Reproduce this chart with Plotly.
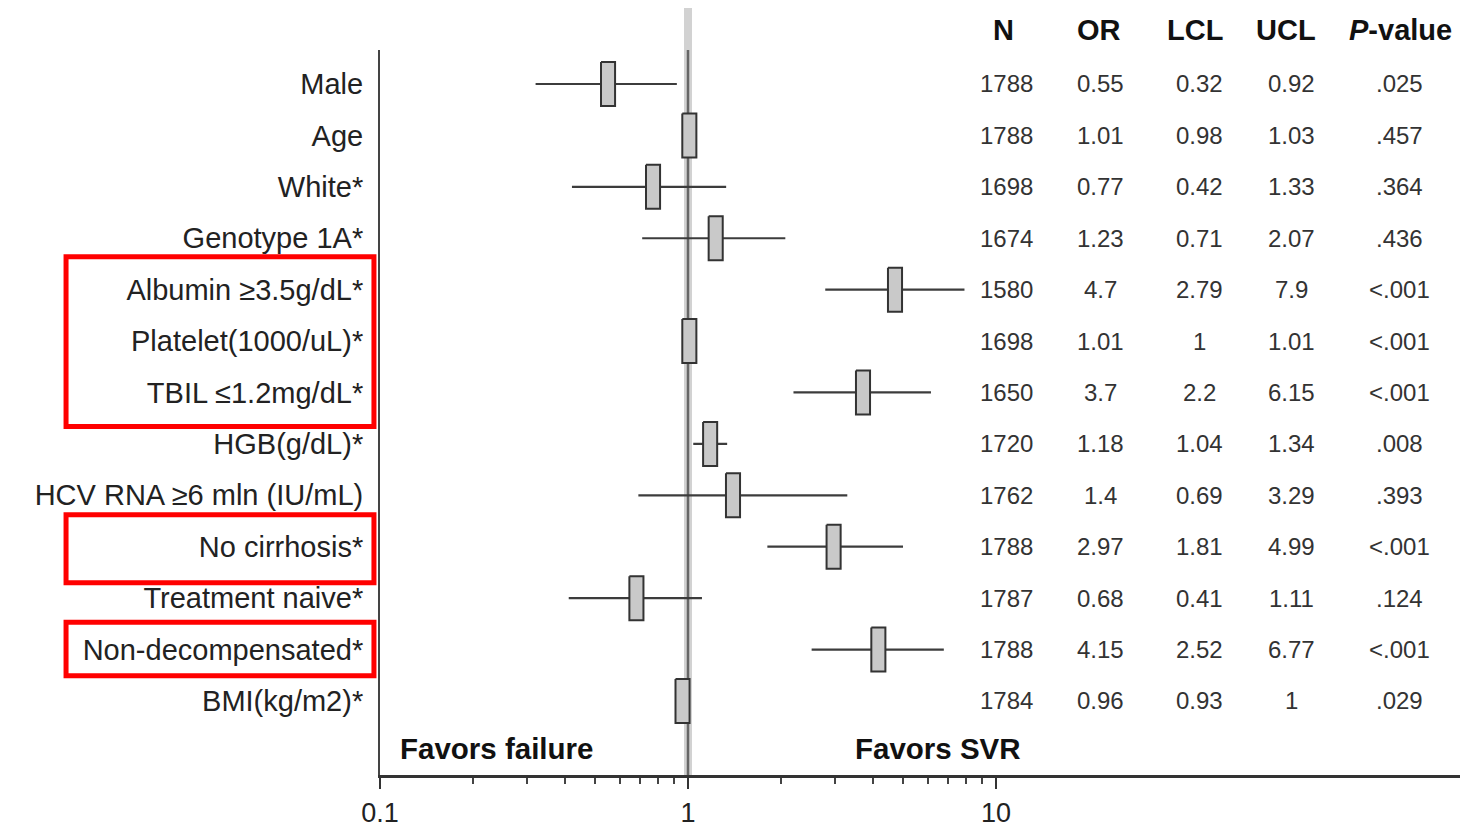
import plotly.graph_objects as go

# ---- data ----
labels = ["Male", "Age", "White*", "Genotype 1A*", "Albumin ≥3.5g/dL*",
          "Platelet(1000/uL)*", "TBIL ≤1.2mg/dL*", "HGB(g/dL)*",
          "HCV RNA ≥6 mln (IU/mL)", "No cirrhosis*", "Treatment naive*",
          "Non-decompensated*", "BMI(kg/m2)*"]
n_vals = [1788, 1788, 1698, 1674, 1580, 1698, 1650, 1720, 1762, 1788, 1787, 1788, 1784]
or_vals = [0.55, 1.01, 0.77, 1.23, 4.7, 1.01, 3.7, 1.18, 1.4, 2.97, 0.68, 4.15, 0.96]
lcl_vals = [0.32, 0.98, 0.42, 0.71, 2.79, 1, 2.2, 1.04, 0.69, 1.81, 0.41, 2.52, 0.93]
ucl_vals = [0.92, 1.03, 1.33, 2.07, 7.9, 1.01, 6.15, 1.34, 3.29, 4.99, 1.11, 6.77, 1]
or_text = ["0.55", "1.01", "0.77", "1.23", "4.7", "1.01", "3.7", "1.18", "1.4", "2.97", "0.68", "4.15", "0.96"]
lcl_text = ["0.32", "0.98", "0.42", "0.71", "2.79", "1", "2.2", "1.04", "0.69", "1.81", "0.41", "2.52", "0.93"]
ucl_text = ["0.92", "1.03", "1.33", "2.07", "7.9", "1.01", "6.15", "1.34", "3.29", "4.99", "1.11", "6.77", "1"]
p_text = [".025", ".457", ".364", ".436", "<.001", "<.001", "<.001", ".008", ".393",
          "<.001", ".124", "<.001", ".029"]
headers = ["<b>N</b>", "<b>OR</b>", "<b>LCL</b>", "<b>UCL</b>", "<b><i>P</i>-value</b>"]
tick_vals = [0.1, 1, 10]
tick_text = ["0.1", "1", "10"]
minor_vals = [0.2, 0.3, 0.4, 0.5, 0.6, 0.7, 0.8, 0.9, 2, 3, 4, 5, 6, 7, 8, 9]
highlight_groups = [(4, 6, 0.64, 0.66), (9, 9, 0.62, 0.70), (11, 11, 0.53, 0.51)]

FONT = "Liberation Sans, Arial, Helvetica, sans-serif"
rows = list(range(len(labels)))

# ---- CI lines ----
ci_x, ci_y = [], []
for i in rows:
    ci_x += [lcl_vals[i], ucl_vals[i], None]
    ci_y += [i, i, None]

# ---- OR boxes ----
f = 1.054   # half box width factor on log scale
h = 0.428   # half box height in rows
bx, by = [], []
for i in rows:
    o = or_vals[i]
    bx += [o / f, o * f, o * f, o / f, o / f, None]
    by += [i - h, i - h, i + h, i + h, i - h, None]

fig = go.Figure()
fig.add_trace(go.Scatter(x=ci_x, y=ci_y, mode="lines",
                         line=dict(color="#3c3c3c", width=2.2), hoverinfo="skip"))
fig.add_trace(go.Scatter(x=bx, y=by, mode="lines", fill="toself",
                         fillcolor="#c9c9c9", line=dict(color="#333333", width=2),
                         hoverinfo="skip"))

# reference line at OR = 1
fig.add_shape(type="line", xref="x", yref="paper", x0=1, x1=1, y0=0, y1=1.058,
              line=dict(color="#d2d2d2", width=8), layer="below")
fig.add_shape(type="line", xref="x", yref="paper", x0=1, x1=1, y0=0, y1=1.0,
              line=dict(color="#666666", width=2.5), layer="below")

# red highlight boxes
for a, b, ta, bb in highlight_groups:
    fig.add_shape(type="rect", xref="paper", yref="y", x0=-0.2907, x1=-0.0056,
                  y0=a - ta, y1=b + bb, line=dict(color="#ff0000", width=5),
                  fillcolor="rgba(0,0,0,0)", layer="above")

# table headers and values
col_x = [1006, 1100, 1199, 1291, 1399]
head_x = [1004, 1099, 1195, 1286, 1400]


def px(x):
    return (x - 380) / 1080


for hx, htxt in zip(head_x, headers):
    fig.add_annotation(x=px(hx), y=1.0276, xref="paper", yref="paper", text=htxt,
                       showarrow=False, xanchor="center", yanchor="middle",
                       font=dict(family=FONT, size=29, color="#111"))

cols = [[str(v) for v in n_vals], or_text, lcl_text, ucl_text, p_text]
for cx, col in zip(col_x, cols):
    for i, t in enumerate(col):
        fig.add_annotation(x=px(cx), y=i, xref="paper", yref="y", text=t,
                           showarrow=False, xanchor="center", yanchor="middle",
                           font=dict(family=FONT, size=24, color="#333"))

fig.add_annotation(x=px(398), y=0.0372, xref="paper", yref="paper",
                   text="<b>Favors failure</b>", showarrow=False, xanchor="left",
                   yanchor="middle", font=dict(family=FONT, size=29.5, color="#111"))
fig.add_annotation(x=px(1023), y=0.0372, xref="paper", yref="paper",
                   text="<b>Favors SVR</b>", showarrow=False, xanchor="right",
                   yanchor="middle", font=dict(family=FONT, size=29.5, color="#111"))

fig.update_layout(
    width=1463, height=830,
    margin=dict(l=380, r=3, t=50, b=55, autoexpand=False),
    paper_bgcolor="white", plot_bgcolor="white",
    showlegend=False,
    font=dict(family=FONT, color="#222"),
    xaxis=dict(type="log", range=[-1, 2.5065], tickmode="array",
               tickvals=tick_vals, ticktext=tick_text, automargin=False,
               ticks="outside", ticklen=11, tickwidth=2, tickcolor="#333",
               showline=True, linecolor="#333", linewidth=2.5,
               showgrid=False, zeroline=False,
               tickfont=dict(family=FONT, size=27, color="#222"),
               ticklabelstandoff=1,
               minor=dict(tickmode="array", tickvals=minor_vals, ticks="outside",
                          ticklen=6, tickwidth=1.5, tickcolor="#444", showgrid=False)),
    yaxis=dict(range=[13.44, -0.661], tickmode="array", tickvals=rows,
               ticktext=labels, ticks="", showline=True, linecolor="#444",
               linewidth=2, showgrid=False, zeroline=False, automargin=False,
               tickfont=dict(family=FONT, size=29, color="#222"),
               ticklabelstandoff=9),
)

fig.write_html("out.html", config={"displayModeBar": False},
               post_script="document.body.style.margin='0';document.body.style.overflow='hidden';")
